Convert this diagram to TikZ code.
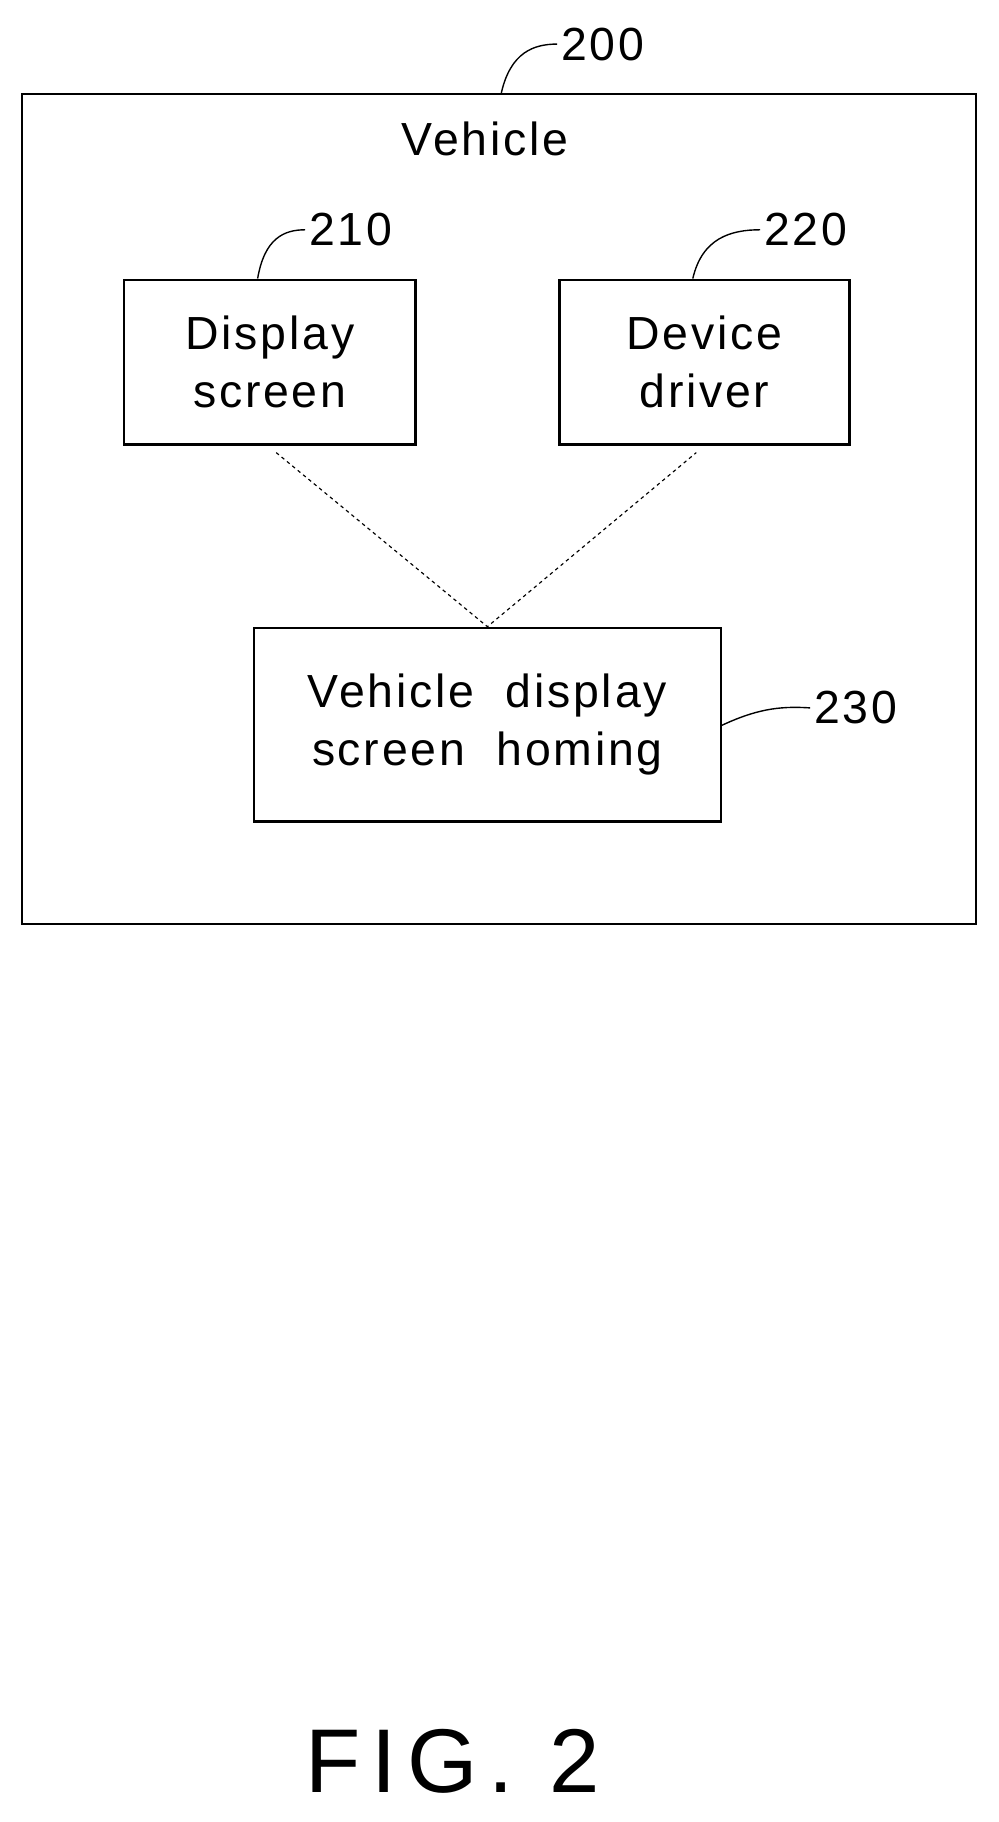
\documentclass[tikz,border=0pt]{standalone}
\usepackage{fontspec}
\setmainfont{Liberation Sans}
\begin{document}
\begin{tikzpicture}[x=1pt,y=-1pt,
  box/.style={draw,line width=2pt},
  lbl/.style={font=\fontsize{40}{50}\selectfont\addfontfeature{LetterSpace=6},align=center},
  lead/.style={line width=1.2pt}]
\useasboundingbox (0,0) rectangle (860,1570);
\node[box,minimum width=822,minimum height=715,anchor=north west] (veh) at (18,80) {};
\node[lbl] (vt) at (418,120) {Vehicle};
\node[box,minimum width=251,minimum height=142,anchor=north west,lbl] (ds) at (106,240) {Display\\screen};
\node[box,minimum width=250,minimum height=142,anchor=north west,lbl] (dd) at (481,240) {Device\\driver};
\node[box,minimum width=402,minimum height=167,anchor=north west,lbl] (hm) at (218,540) {Vehicle~ display\\screen~ homing};
\node[lbl,anchor=west] (n200) at (480,38) {200};
\node[lbl,anchor=west] (n210) at (263,198) {210};
\node[lbl,anchor=west] (n220) at (655,198) {220};
\node[lbl,anchor=west] (n230) at (698,610) {230};
\node[font=\fontsize{78}{78}\selectfont\addfontfeature{LetterSpace=12}] (fig) at (390,1518) {FIG. 2};
\coordinate (a1) at (238,390); \coordinate (a2) at (600,390);
\draw[dashed,line width=1pt] (a1) -- (hm.north) -- (a2);
\draw[lead] (432,80) .. controls (440,45) and (460,38) .. (n200.west);
\draw[lead] (222,240) .. controls (228,205) and (245,198) .. (n210.west);
\draw[lead] (597,240) .. controls (605,205) and (630,198) .. (n220.west);
\draw[lead] (hm.east |- 0,625) .. controls (650,612) and (670,608) .. (n230.west);
\end{tikzpicture}
\end{document}
